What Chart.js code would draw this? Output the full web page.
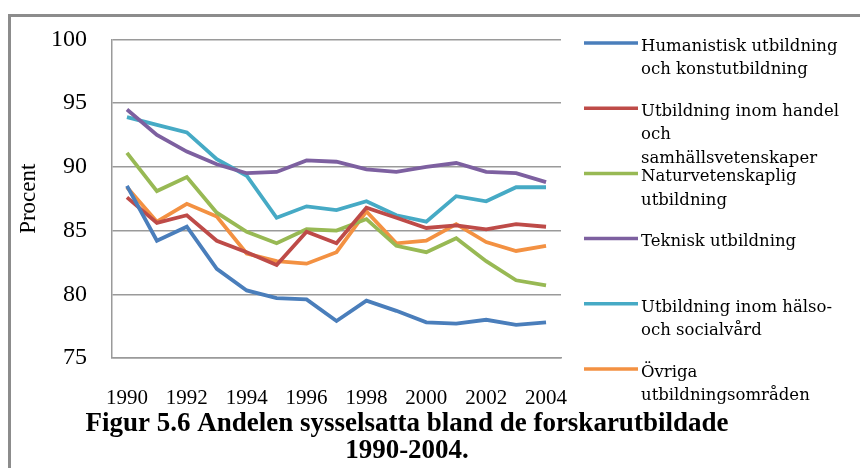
<!DOCTYPE html>
<html>
<head>
<meta charset="utf-8">
<script src="https://cdn.jsdelivr.net/npm/chart.js@4"></script>
<style>
  html, body { margin: 0; padding: 0; background: #fff; }
  #wrap { position: relative; width: 860px; height: 468px; }
  #frame { position: absolute; left: 8px; top: 14px; right: 0; bottom: 0;
           border-top: 3px solid #8c8c8c; border-left: 3px solid #8c8c8c; }
  canvas { position: absolute; left: 0; top: 0; }
</style>
</head>
<body>
<div id="wrap">
  <div id="frame"></div>
  <canvas id="chart" width="860" height="468"></canvas>
</div>
<script>
// data
var years = ['1990','1991','1992','1993','1994','1995','1996','1997','1998','1999','2000','2001','2002','2003','2004'];

var humanistisk = [88.5, 84.2, 85.3, 82.0, 80.3, 79.7, 79.6, 77.9, 79.5, 78.7, 77.8, 77.7, 78.0, 77.6, 77.8];
var handel      = [87.6, 85.6, 86.2, 84.2, 83.3, 82.3, 84.9, 84.0, 86.8, 86.0, 85.2, 85.4, 85.1, 85.5, 85.3];
var natur       = [91.1, 88.1, 89.2, 86.4, 84.9, 84.0, 85.1, 85.0, 85.9, 83.8, 83.3, 84.4, 82.6, 81.1, 80.7];
var teknisk     = [94.5, 92.5, 91.2, 90.2, 89.5, 89.6, 90.5, 90.4, 89.8, 89.6, 90.0, 90.3, 89.6, 89.5, 88.8];
var halso       = [93.9, 93.3, 92.7, 90.6, 89.3, 86.0, 86.9, 86.6, 87.3, 86.2, 85.7, 87.7, 87.3, 88.4, 88.4];
var ovriga      = [88.4, 85.7, 87.1, 86.1, 83.2, 82.6, 82.4, 83.3, 86.5, 84.0, 84.2, 85.5, 84.1, 83.4, 83.8];

var seriesLabels = [
  ['Humanistisk utbildning', 'och konstutbildning'],
  ['Utbildning inom handel', 'och', 'samhällsvetenskaper'],
  ['Naturvetenskaplig', 'utbildning'],
  ['Teknisk utbildning'],
  ['Utbildning inom hälso-', 'och socialvård'],
  ['Övriga', 'utbildningsområden']
];
var colors = ['#4a7ebb', '#be4b48', '#98b954', '#7d60a0', '#46aac5', '#f39142'];

var yTicks = { min: 75, max: 100, step: 5 };
var titleLines = ['Figur 5.6 Andelen sysselsatta bland de forskarutbildade', '1990-2004.'];

var allSeries = [humanistisk, handel, natur, teknisk, halso, ovriga];
var datasets = allSeries.map(function (s, i) {
  return {
    label: seriesLabels[i].join(' '),
    lines: seriesLabels[i],
    data: s,
    borderColor: colors[i],
    backgroundColor: colors[i],
    borderWidth: 3.8,
    pointRadius: 0,
    tension: 0,
    fill: false
  };
});

var serif = "'Liberation Serif', 'Times New Roman', serif";

// legend at the right + caption below, drawn on the canvas
var extras = {
  id: 'extras',
  afterDraw: function (chart) {
    var ctx = chart.ctx;
    ctx.save();
    // legend
    ctx.font = "16.5px 'DejaVu Serif', serif";
    ctx.textBaseline = 'middle';
    ctx.textAlign = 'left';
    chart.data.datasets.forEach(function (ds, i) {
      var y = 43 + i * 65.2;
      ctx.strokeStyle = ds.borderColor;
      ctx.lineWidth = 3.5;
      ctx.beginPath();
      ctx.moveTo(584, y);
      ctx.lineTo(638, y);
      ctx.stroke();
      ctx.fillStyle = '#000';
      ds.lines.forEach(function (t, k) {
        ctx.fillText(t, 641, y + 3.5 + k * 23.5);
      });
    });
    // caption
    ctx.font = 'bold 27px ' + serif;
    ctx.textAlign = 'center';
    ctx.fillStyle = '#000';
    titleLines.forEach(function (t, k) {
      ctx.fillText(t, 407, 424 + k * 27);
    });
    ctx.restore();
  }
};

new Chart(document.getElementById('chart'), {
  type: 'line',
  data: { labels: years, datasets: datasets },
  options: {
    responsive: false,
    animation: false,
    layout: { padding: { left: 0, right: 299, top: 36, bottom: 59 } },
    plugins: { legend: { display: false }, tooltip: { enabled: false } },
    scales: {
      x: {
        offset: true,
        grid: { display: false },
        border: { display: true, color: '#9a9a9a', width: 1.5 },
        ticks: {
          autoSkip: false,
          maxRotation: 0,
          padding: 20,
          color: '#000',
          font: { family: serif, size: 21 },
          callback: function (v, i) { return i % 2 === 0 ? years[i] : ''; }
        },
        afterFit: function (scale) { scale.height = 51; }
      },
      y: {
        min: yTicks.min,
        max: yTicks.max,
        grid: { color: '#9a9a9a', lineWidth: 1.5, drawTicks: false },
        border: { display: true, color: '#9a9a9a', width: 1.5 },
        ticks: {
          stepSize: yTicks.step,
          padding: 25,
          color: '#000',
          font: { family: serif, size: 24 }
        },
        title: {
          display: true,
          text: 'Procent',
          color: '#000',
          padding: { top: 15, bottom: 0 },
          font: { family: serif, size: 23 }
        },
        afterFit: function (scale) { scale.width = 112; }
      }
    }
  },
  plugins: [extras]
});
</script>
</body>
</html>
